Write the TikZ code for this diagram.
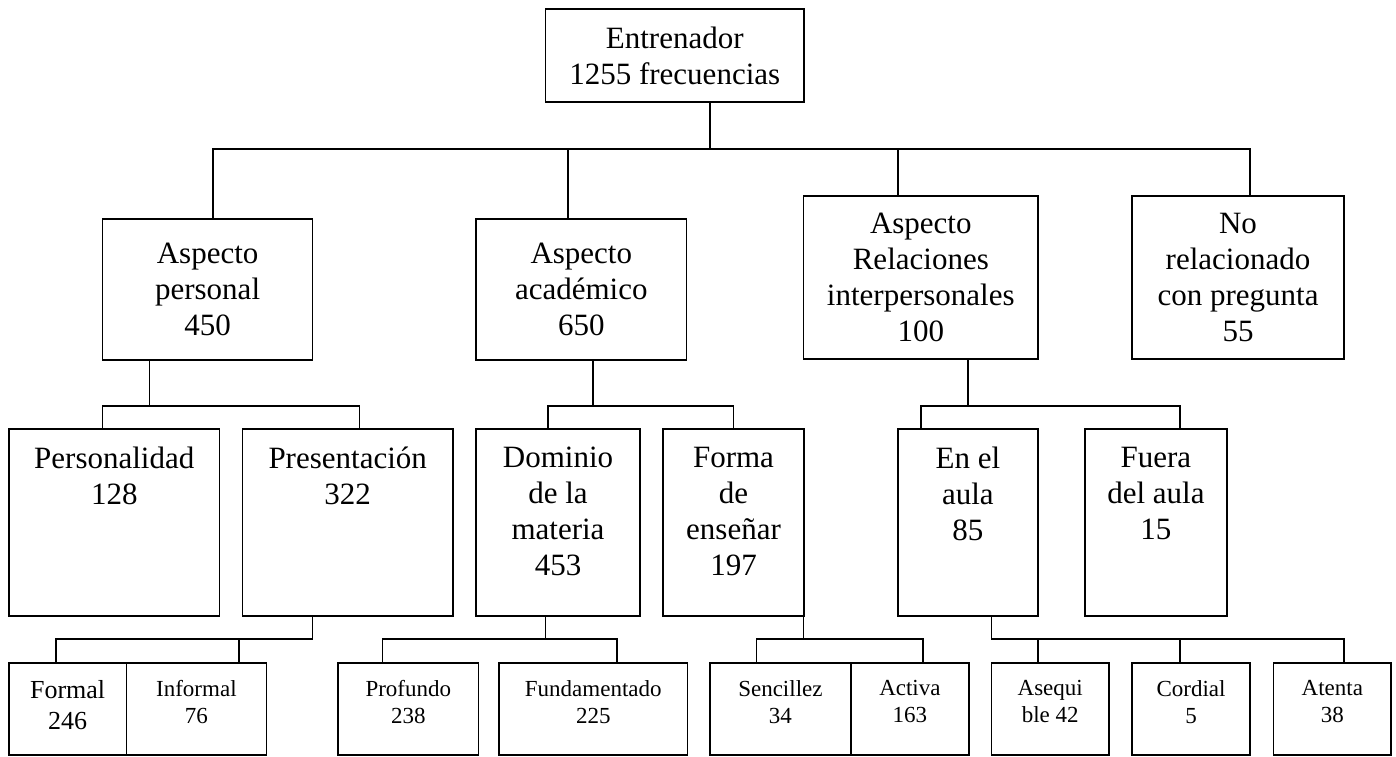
\documentclass[tikz,border=0pt]{standalone}
\usepackage{fontspec}
\setmainfont{Liberation Serif}
\begin{document}
\begin{tikzpicture}[x=1pt,y=-1pt,
  box/.style={draw, line width=1.4pt, inner sep=0pt, outer sep=0pt, anchor=north west, align=center},
  big/.style={font=\fontsize{31}{36}\selectfont, align=center, inner sep=0pt},
  mid/.style={font=\fontsize{26}{31}\selectfont, align=center, inner sep=0pt, anchor=north},
  small/.style={font=\fontsize{23}{27}\selectfont, align=center, inner sep=0pt, anchor=north},
  link/.style={line width=1.4pt}]
\useasboundingbox (0,0) rectangle (1396,756);

% level 0
\node[box, big, minimum width=258.5pt, minimum height=93pt] (top) at (545.5,9) {Entrenador\\1255 frecuencias};

% level 1
\node[box, big, minimum width=209.8pt, minimum height=141pt] (ap) at (102.7,219) {Aspecto\\personal\\450};
\node[box, big, minimum width=210.6pt, minimum height=141pt] (aa) at (476,219) {Aspecto\\académico\\650};
\node[box, big, minimum width=234.4pt, minimum height=163pt] (ar) at (803.6,196) {Aspecto\\Relaciones\\interpersonales\\100};
\node[box, big, minimum width=212pt, minimum height=163pt] (nr) at (1132,196) {No\\relacionado\\con pregunta\\55};

% level 2
\node[box, minimum width=210.6pt, minimum height=187pt] (pe) at (9,429) {};
\node[big, anchor=north] (pe-t) at ([yshift=-18pt]pe.north) {Personalidad\\128};
\node[box, minimum width=210.6pt, minimum height=187pt] (pr) at (242.4,429) {};
\node[big, anchor=north] (pr-t) at ([yshift=-18pt]pr.north) {Presentación\\322};
\node[box, minimum width=164pt, minimum height=187pt] (do) at (476,429) {};
\node[big, anchor=north] (do-t) at ([yshift=-18pt]do.north) {Dominio\\de la\\materia\\453};
\node[box, minimum width=141pt, minimum height=187pt] (fo) at (663,429) {};
\node[big, anchor=north] (fo-t) at ([yshift=-18pt]fo.north) {Forma\\de\\enseñar\\197};
\node[box, minimum width=140.2pt, minimum height=187pt] (en) at (897.8,429) {};
\node[big, anchor=north] (en-t) at ([yshift=-18pt]en.north) {En el\\aula\\85};
\node[box, minimum width=141.8pt, minimum height=187pt] (fu) at (1085,429) {};
\node[big, anchor=north] (fu-t) at ([yshift=-18pt]fu.north) {Fuera\\del aula\\15};

% level 3
\node[box, minimum width=117.3pt, minimum height=92pt] (fm) at (9,663) {};
\node[mid] (fm-t) at ([yshift=-17pt]fm.north) {Formal\\246};
\node[box, minimum width=140.2pt, minimum height=92pt] (in) at (126.3,663) {};
\node[small] (in-t) at ([yshift=-17pt]in.north) {Informal\\76};
\node[box, minimum width=140.6pt, minimum height=92pt] (pf) at (338,663) {};
\node[small] (pf-t) at ([yshift=-17pt]pf.north) {Profundo\\238};
\node[box, minimum width=188.5pt, minimum height=92pt] (fd) at (499,663) {};
\node[small] (fd-t) at ([yshift=-17pt]fd.north) {Fundamentado\\225};
\node[box, minimum width=141.2pt, minimum height=92pt] (se) at (709.8,663) {};
\node[small] (se-t) at ([yshift=-17pt]se.north) {Sencillez\\34};
\node[box, minimum width=117.8pt, minimum height=92pt] (ac) at (851,663) {};
\node[small] (ac-t) at ([yshift=-17pt]ac.north) {Activa\\163};
\node[box, minimum width=117.5pt, minimum height=92pt] (as) at (991.5,663) {};
\node[small] (as-t) at ([yshift=-17pt]as.north) {Asequi\\ble 42};
\node[box, minimum width=118pt, minimum height=92pt] (co) at (1132,663) {};
\node[small] (co-t) at ([yshift=-17pt]co.north) {Cordial\\5};
\node[box, minimum width=117.3pt, minimum height=92pt] (at) at (1273.7,663) {};
\node[small] (at-t) at ([yshift=-17pt]at.north) {Atenta\\38};

% connectors level 0 -> 1
\coordinate (b0) at (710,149);
\coordinate (b0a) at (213,149);
\coordinate (b0b) at (568,149);
\coordinate (b0c) at (898,149);
\coordinate (b0d) at (1250,149);
\draw[link] (b0 |- top.south) -- (b0);
\draw[link] (b0a |- ap.north) -- (b0a) -- (b0d) -- (b0d |- nr.north);
\draw[link] (b0b) -- (b0b |- aa.north);
\draw[link] (b0c) -- (b0c |- ar.north);

% connectors level 1 -> 2
\coordinate (b1) at (149.6,406);
\coordinate (b1a) at (102.7,406);
\coordinate (b1b) at (359.4,406);
\draw[link] (b1 |- ap.south) -- (b1);
\draw[link] (b1a |- pe.north) -- (b1a) -- (b1b) -- (b1b |- pr.north);
\coordinate (b2) at (593,406);
\coordinate (b2a) at (548,406);
\coordinate (b2b) at (733.5,406);
\draw[link] (b2 |- aa.south) -- (b2);
\draw[link] (b2a |- do.north) -- (b2a) -- (b2b) -- (b2b |- fo.north);
\coordinate (b3) at (968,406);
\coordinate (b3a) at (921,406);
\coordinate (b3b) at (1180,406);
\draw[link] (b3 |- ar.south) -- (b3);
\draw[link] (b3a |- en.north) -- (b3a) -- (b3b) -- (b3b |- fu.north);

% connectors level 2 -> 3
\coordinate (c1) at (312.5,639);
\coordinate (c1a) at (55.8,639);
\coordinate (c1b) at (238.8,639);
\draw[link] (c1 |- pr.south) -- (c1);
\draw[link] (c1a |- fm.north) -- (c1a) -- (c1);
\draw[link] (c1b) -- (c1b |- in.north);
\coordinate (c2) at (545.5,639);
\coordinate (c2a) at (382.6,639);
\coordinate (c2b) at (617,639);
\draw[link] (c2 |- do.south) -- (c2);
\draw[link] (c2a |- pf.north) -- (c2a) -- (c2b) -- (c2b |- fd.north);
\coordinate (c3) at (803.6,639);
\coordinate (c3a) at (756.7,639);
\coordinate (c3b) at (923,639);
\draw[link] (c3 |- fo.south) -- (c3);
\draw[link] (c3a |- se.north) -- (c3a) -- (c3b) -- (c3b |- ac.north);
\coordinate (c4) at (991.5,639);
\coordinate (c4a) at (1038,639);
\coordinate (c4b) at (1180,639);
\coordinate (c4c) at (1343.8,639);
\draw[link] (c4 |- en.south) -- (c4) -- (c4c) -- (c4c |- at.north);
\draw[link] (c4a) -- (c4a |- as.north);
\draw[link] (c4b) -- (c4b |- co.north);
\end{tikzpicture}
\end{document}
